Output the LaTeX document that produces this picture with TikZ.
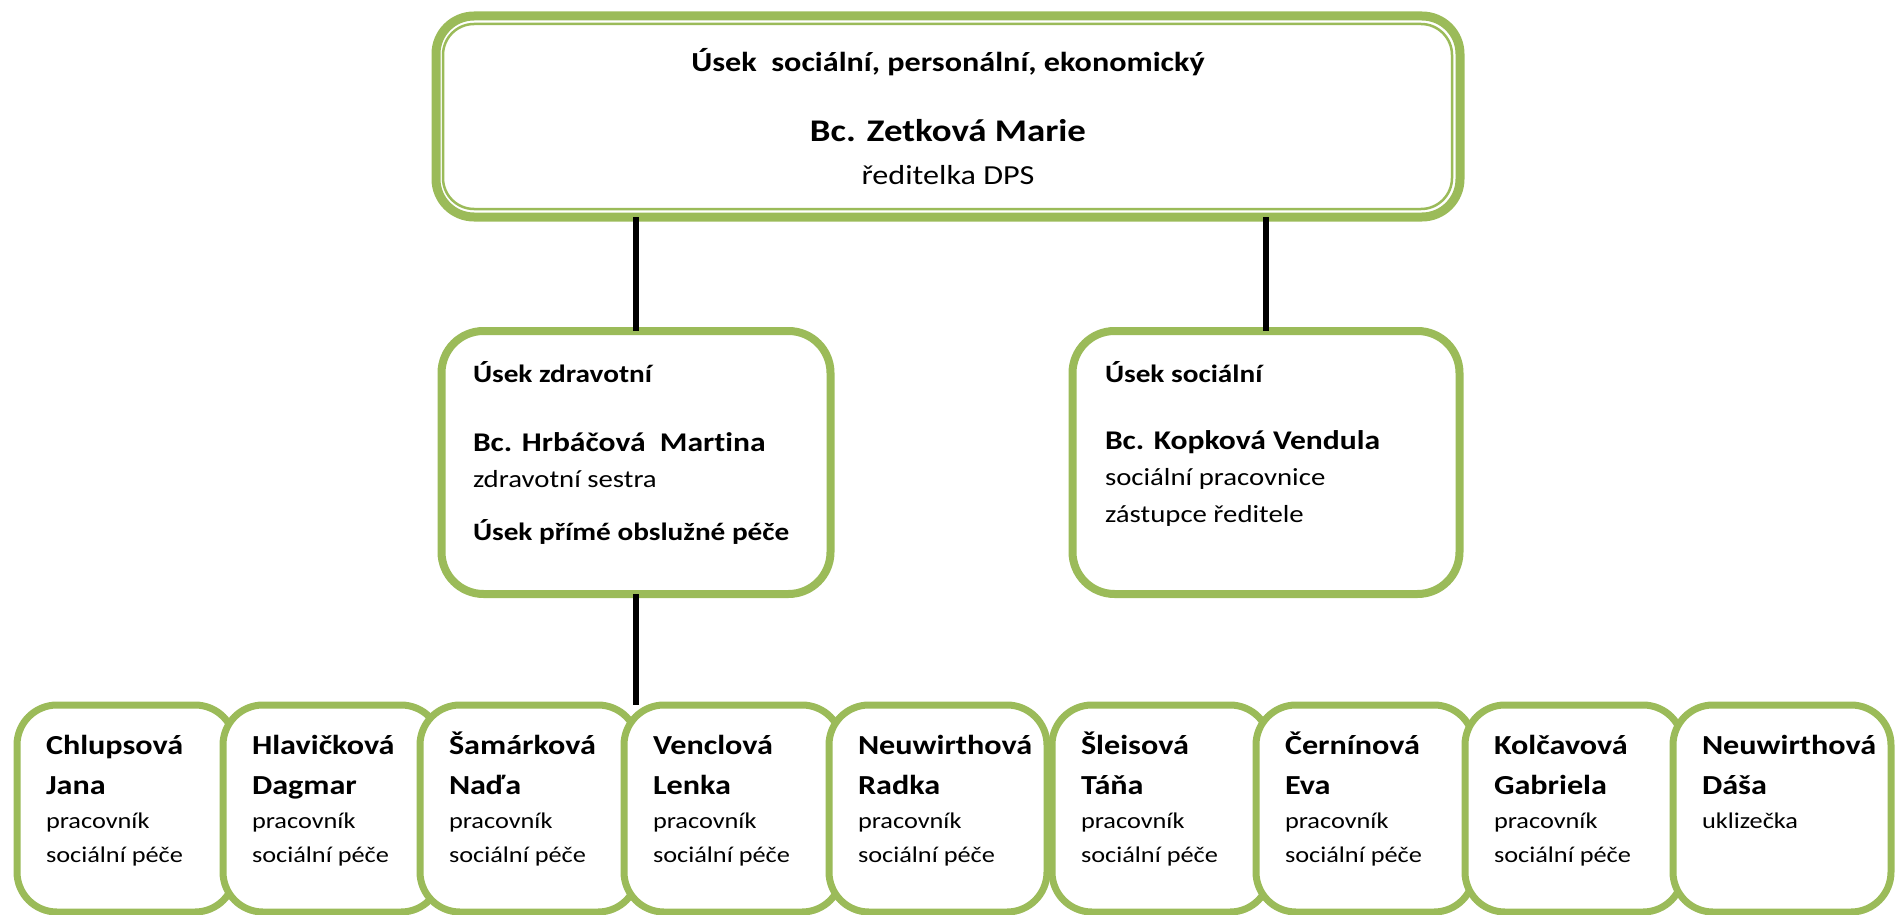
\documentclass[tikz,border=0pt]{standalone}
\usepackage{fontspec}
\setmainfont{Carlito}[FakeStretch=1.17, Ligatures=NoCommon]
\definecolor{boxgreen}{HTML}{9BBB59}
\begin{document}
\begin{tikzpicture}[x=1pt,y=-1pt,
  box/.style={draw=boxgreen, fill=white, outer sep=0pt, inner sep=0pt},
  topbox/.style={box, line width=9pt, rounded corners=38pt},
  midbox/.style={box, line width=8pt, rounded corners=42pt},
  lowbox/.style={box, line width=7pt, rounded corners=40pt, minimum width=218pt, minimum height=207pt},
  conn/.style={draw=black, line width=6pt},
  txt/.style={inner sep=0pt, outer sep=0pt},
  ttitle/.style={txt, font=\fontsize{27.5}{33}\selectfont\bfseries},
  tname/.style={txt, font=\fontsize{31.5}{38}\selectfont\bfseries},
  trole/.style={txt, font=\fontsize{27.5}{33}\selectfont},
  mhead/.style={txt, font=\fontsize{25}{30}\selectfont\bfseries},
  mname/.style={txt, font=\fontsize{27}{32}\selectfont\bfseries},
  mrole/.style={txt, font=\fontsize{24.6}{30}\selectfont},
  bname/.style={txt, font=\fontsize{27.5}{33}\selectfont\bfseries},
  brole/.style={txt, font=\fontsize{22.5}{27}\selectfont}]
\useasboundingbox (0,0) rectangle (1899,915);
\begin{scope}
\clip (0,0) rectangle (1899,915);
% top box
\node[topbox, minimum width=1024pt, minimum height=201pt] (top) at (948,116.5) {};
\draw[boxgreen, line width=2.5pt, rounded corners=31pt] ([shift={(7,8)}]top.north west) rectangle ([shift={(-8,-8)}]top.south east);
\node[ttitle, anchor=base] (t1) at (948,72) {Úsek\ \ sociální, personální, ekonomický};
\node[tname, anchor=base] (t2) at (948,142) {Bc. Zetková Marie};
\node[trole, anchor=base] (t3) at (948,185) {ředitelka DPS};
% middle boxes
\node[midbox, minimum width=389pt, minimum height=263pt] (m1) at (636,462.5) {};
\node[midbox, minimum width=387pt, minimum height=263pt] (m2) at (1266,462.5) {};
\node[mhead, anchor=base west] (m1a) at (473,382) {Úsek zdravotní};
\node[mname, anchor=base west] (m1b) at (473,451) {Bc. Hrbáčová\ \ Martina};
\node[mrole, anchor=base west] (m1c) at (473,487) {zdravotní sestra};
\node[mhead, anchor=base west] (m1d) at (473,540) {Úsek přímé obslužné péče};
\node[mhead, anchor=base west] (m2a) at (1105,382) {Úsek sociální};
\node[mname, anchor=base west] (m2b) at (1105,449) {Bc. Kopková Vendula};
\node[mrole, anchor=base west] (m2c) at (1105,485) {sociální pracovnice};
\node[mrole, anchor=base west] (m2d) at (1105,522) {zástupce ředitele};
% bottom boxes
\foreach \i/\x/\na/\nb/\ra/\rb in {
  1/17/Chlupsová/Jana/pracovník/sociální péče,
  2/223/Hlavičková/Dagmar/pracovník/sociální péče,
  3/420/Šamárková/Naďa/pracovník/sociální péče,
  4/624/Venclová/Lenka/pracovník/sociální péče,
  5/829/Neuwirthová/Radka/pracovník/sociální péče,
  6/1052/Šleisová/Táňa/pracovník/sociální péče,
  7/1256/Černínová/Eva/pracovník/sociální péče,
  8/1465/Kolčavová/Gabriela/pracovník/sociální péče,
  9/1673/Neuwirthová/Dáša/uklizečka/}{
  \node[lowbox] (b\i) at (\x+109,808.5) {};
  \node[bname, anchor=base west] (b\i-a) at (\x+29,754) {\na};
  \node[bname, anchor=base west] (b\i-b) at (\x+29,794) {\nb};
  \node[brole, anchor=base west] (b\i-c) at (\x+29,828) {\ra};
  \node[brole, anchor=base west] (b\i-d) at (\x+29,862) {\rb};
}
\end{scope}
% connectors
\draw[conn] (top.south -| m1.north) -- (m1.north);
\draw[conn] (top.south -| m2.north) -- (m2.north);
\draw[conn] (m1.south) -- (m1.south |- b4.north);
\end{tikzpicture}
\end{document}
